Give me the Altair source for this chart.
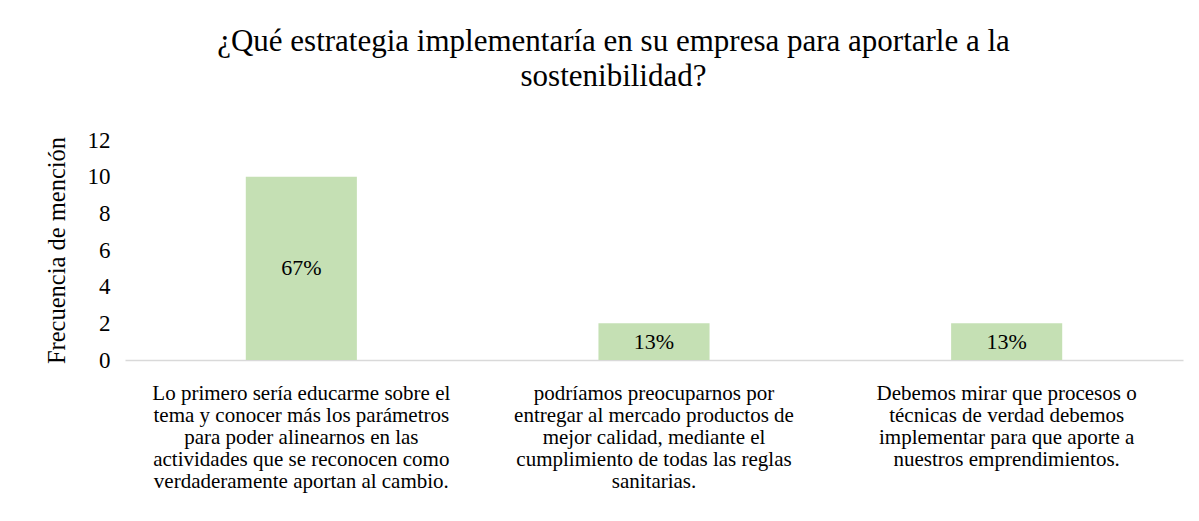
import altair as alt
import pandas as pd

categories = [
    "Lo primero sería educarme sobre el\ntema y conocer más los parámetros\npara poder alinearnos en las\nactividades que se reconocen como\nverdaderamente aportan al cambio.",
    "podríamos preocuparnos por\nentregar al mercado productos de\nmejor calidad, mediante el\ncumplimiento de todas las reglas\nsanitarias.",
    "Debemos mirar que procesos o\ntécnicas de verdad debemos\nimplementar para que aporte a\nnuestros emprendimientos.",
]
frecuencia = [10, 2, 2]
porcentaje = ["67%", "13%", "13%"]

title_lines = ["¿Qué estrategia implementaría en su empresa para aportarle a la", "sostenibilidad?"]
y_title = "Frecuencia de mención"
y_ticks = [0, 2, 4, 6, 8, 10, 12]

df = pd.DataFrame({"cat": categories, "freq": frecuencia, "pct": porcentaje})

FONT = "Liberation Serif"

x_axis = alt.Axis(
    title=None,
    labelAngle=0,
    labelExpr="split(datum.label, '\\n')",
    labelFont=FONT,
    labelFontSize=21,
    labelLineHeight=22,
    labelColor="#000000",
    labelPadding=22,
    labelLimit=500,
    ticks=False,
    domainColor="#d9d9d9",
    domainWidth=1.5,
)

y_axis = alt.Axis(
    title=y_title,
    values=y_ticks,
    grid=False,
    domain=False,
    ticks=False,
    labelOverlap=False,
    labelFont=FONT,
    labelFontSize=23,
    labelColor="#000000",
    labelPadding=15,
    titleFont=FONT,
    titleFontSize=24.5,
    titleFontWeight="normal",
    titleColor="#000000",
    titlePadding=18,
)

y_scale = alt.Scale(domain=[0, 12], nice=False)

base = alt.Chart(df).encode(
    x=alt.X(
        "cat:N",
        sort=None,
        scale=alt.Scale(paddingInner=0.685, paddingOuter=0.3425),
        axis=x_axis,
    ),
)

bars = base.mark_bar(color="#C5E0B4").encode(
    y=alt.Y("freq:Q", scale=y_scale, axis=y_axis)
)

labels = base.mark_text(font=FONT, fontSize=22, color="#000000").transform_calculate(
    mid="datum.freq / 2"
).encode(
    y=alt.Y("mid:Q", scale=y_scale, axis=y_axis),
    text="pct:N",
)

chart = alt.layer(bars, labels).properties(
    width=1058,
    height=220,
    background="white",
    title=alt.TitleParams(
        text=title_lines,
        font=FONT,
        fontSize=31,
        fontWeight="normal",
        color="#000000",
        anchor="middle",
        frame="bounds",
        lineHeight=35,
        offset=36,
    ),
    autosize=alt.AutoSizeParams(type="none"),
    padding={"left": 117, "top": 132, "right": 8, "bottom": 150},
).configure_view(strokeWidth=0, stroke=None)

chart.save("out.html", embed_options={"renderer": "svg", "actions": False})
